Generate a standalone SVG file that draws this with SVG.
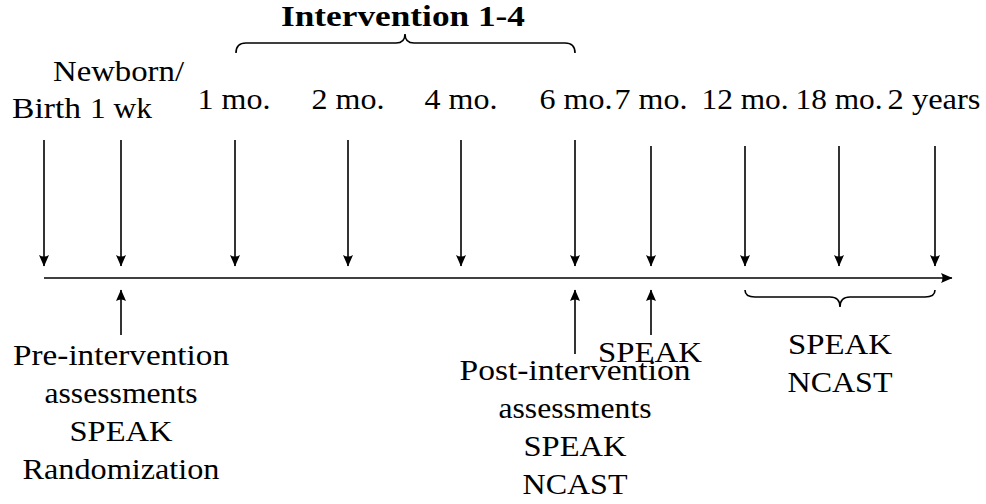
<svg xmlns="http://www.w3.org/2000/svg" width="986" height="504" viewBox="0 0 986 504">
<style>
text{font-family:"Liberation Serif","Times New Roman",serif;font-size:29.8px;fill:#000}
.b{font-weight:bold}
.m{text-anchor:middle}
.ln{stroke:#000;stroke-width:1.6;fill:none}
.ar{stroke:#000;stroke-width:1.6;fill:none;marker-end:url(#ah)}
</style>
<defs>
<marker id="ah" viewBox="-12 -6 13 12" refX="0" refY="0" markerWidth="13" markerHeight="12" markerUnits="userSpaceOnUse" orient="auto">
<path d="M0.5,0 L-11,-5 Q-8,0 -11,5 Z" fill="#000"/>
</marker>
</defs>
<rect width="986" height="504" fill="#fff"/>
<g id="connectors">
<line class="ar" x1="44" y1="278" x2="952" y2="278"/>
<line class="ar" x1="44" y1="140" x2="44" y2="266"/>
<line class="ar" x1="121" y1="140" x2="121" y2="266"/>
<line class="ar" x1="235" y1="140" x2="235" y2="266"/>
<line class="ar" x1="348" y1="140" x2="348" y2="266"/>
<line class="ar" x1="461" y1="140" x2="461" y2="266"/>
<line class="ar" x1="575" y1="140" x2="575" y2="266"/>
<line class="ar" x1="651" y1="146" x2="651" y2="266"/>
<line class="ar" x1="745" y1="146" x2="745" y2="266"/>
<line class="ar" x1="839" y1="146" x2="839" y2="266"/>
<line class="ar" x1="935" y1="146" x2="935" y2="266"/>
<line class="ar" x1="121" y1="335" x2="121" y2="290"/>
<line class="ar" x1="575" y1="354" x2="575" y2="290"/>
<line class="ar" x1="651" y1="335" x2="651" y2="290"/>
<path class="ln" d="M236,53 Q236,43 246,43 L396,43 Q405,43 405,34 Q405,43 414,43 L565,43 Q575,43 575,53"/>
<path class="ln" d="M745,290 Q745,297 755,297 L830,297 Q840,297 840,307 Q840,297 850,297 L925,297 Q935,297 935,290"/>
</g>
<g id="title"><text class="b m" x="403" y="26" textLength="244" lengthAdjust="spacingAndGlyphs">Intervention 1-4</text></g>
<g id="birth">
<text x="53" y="81" textLength="131" lengthAdjust="spacingAndGlyphs">Newborn/</text>
<text x="12" y="118" textLength="69" lengthAdjust="spacingAndGlyphs">Birth</text>
</g>
<g id="wk1"><text x="90" y="118" textLength="62" lengthAdjust="spacingAndGlyphs">1 wk</text></g>
<g id="mo1"><text class="m" x="234" y="109" textLength="73" lengthAdjust="spacingAndGlyphs">1 mo.</text></g>
<g id="mo2"><text class="m" x="348" y="109" textLength="73" lengthAdjust="spacingAndGlyphs">2 mo.</text></g>
<g id="mo4"><text class="m" x="461" y="109" textLength="73" lengthAdjust="spacingAndGlyphs">4 mo.</text></g>
<g id="mo6"><text class="m" x="576" y="109" textLength="73" lengthAdjust="spacingAndGlyphs">6 mo.</text></g>
<g id="mo7"><text class="m" x="651" y="109" textLength="73" lengthAdjust="spacingAndGlyphs">7 mo.</text></g>
<g id="mo12"><text class="m" x="745" y="109" textLength="87" lengthAdjust="spacingAndGlyphs">12 mo.</text></g>
<g id="mo18"><text class="m" x="839" y="109" textLength="87" lengthAdjust="spacingAndGlyphs">18 mo.</text></g>
<g id="yr2"><text class="m" x="934" y="109" textLength="93" lengthAdjust="spacingAndGlyphs">2 years</text></g>
<g id="pre">
<text class="m" x="121" y="365" textLength="216" lengthAdjust="spacingAndGlyphs">Pre-intervention</text>
<text class="m" x="121" y="403" textLength="153" lengthAdjust="spacingAndGlyphs">assessments</text>
<text class="m" x="121" y="441" textLength="103" lengthAdjust="spacingAndGlyphs">SPEAK</text>
<text class="m" x="121" y="479" textLength="197" lengthAdjust="spacingAndGlyphs">Randomization</text>
</g>
<g id="speak7"><text class="m" x="650" y="362" textLength="104" lengthAdjust="spacingAndGlyphs">SPEAK</text></g>
<g id="post">
<text class="m" x="575" y="380" textLength="231" lengthAdjust="spacingAndGlyphs">Post-intervention</text>
<text class="m" x="575" y="418" textLength="153" lengthAdjust="spacingAndGlyphs">assessments</text>
<text class="m" x="575" y="456" textLength="103" lengthAdjust="spacingAndGlyphs">SPEAK</text>
<text class="m" x="575" y="494" textLength="105" lengthAdjust="spacingAndGlyphs">NCAST</text>
</g>
<g id="later">
<text class="m" x="840" y="354" textLength="104" lengthAdjust="spacingAndGlyphs">SPEAK</text>
<text class="m" x="840" y="392" textLength="105" lengthAdjust="spacingAndGlyphs">NCAST</text>
</g>
</svg>
